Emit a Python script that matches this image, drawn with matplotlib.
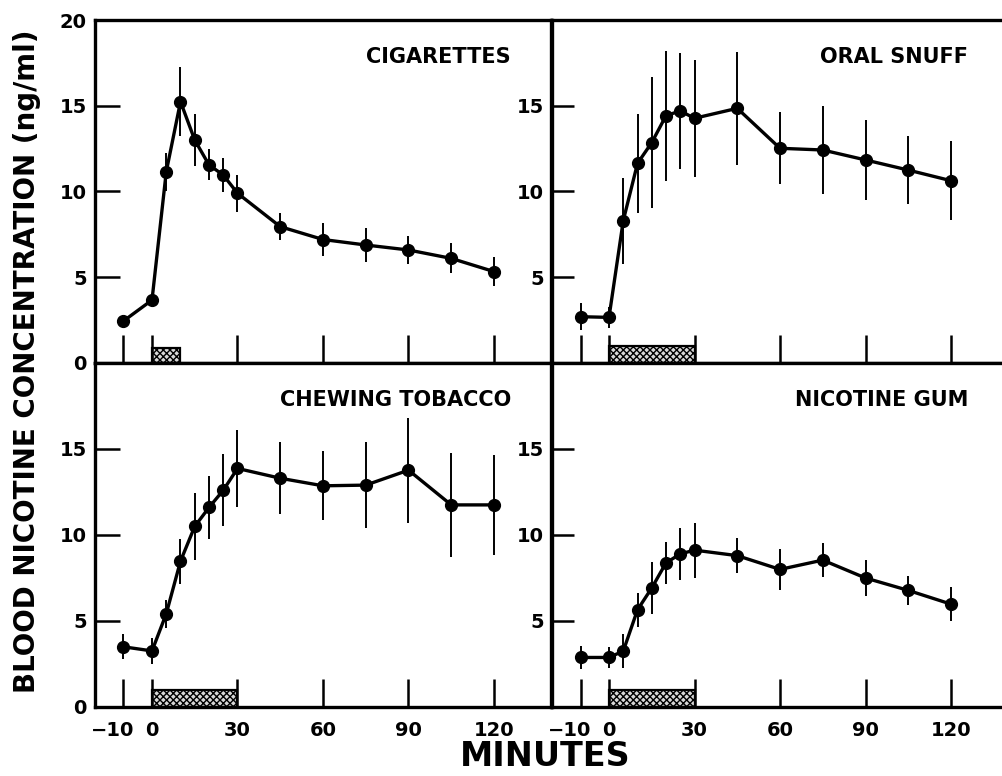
import numpy as np
import matplotlib
matplotlib.use("Agg")
import matplotlib.pyplot as plt
from matplotlib.transforms import ScaledTranslation

plt.rcParams['font.family'] = ['DejaVu Sans']
plt.rcParams['font.weight'] = 'bold'
plt.rcParams['hatch.linewidth'] = 1.0

# sampling times (minutes), same for all four panels
minutes = [-10, 0, 5, 10, 15, 20, 25, 30, 45, 60, 75, 90, 105, 120]

cig_mean = [2.45, 3.67, 11.15, 15.24, 13.0, 11.55, 10.96, 9.9, 7.95, 7.2, 6.88, 6.59, 6.1, 5.33]
cig_err = [0.3, 0.3, 1.1, 2.0, 1.5, 0.9, 1.0, 1.07, 0.8, 0.97, 0.97, 0.8, 0.87, 0.83]

snuff_mean = [2.7, 2.66, 8.3, 11.64, 12.85, 14.42, 14.7, 14.27, 14.85, 12.52, 12.42, 11.84, 11.25, 10.63]
snuff_err = [0.8, 0.6, 2.5, 2.9, 3.8, 3.8, 3.4, 3.4, 3.3, 2.1, 2.55, 2.35, 2.0, 2.3]

chew_mean = [3.5, 3.26, 5.42, 8.48, 10.5, 11.6, 12.6, 13.87, 13.3, 12.86, 12.9, 13.77, 11.75, 11.75]
chew_err = [0.73, 0.78, 0.83, 1.3, 1.95, 1.85, 2.1, 2.25, 2.1, 2.0, 2.5, 3.05, 3.0, 2.9]

gum_mean = [2.88, 2.88, 3.25, 5.65, 6.92, 8.38, 8.9, 9.12, 8.8, 8.0, 8.54, 7.5, 6.78, 5.98]
gum_err = [0.68, 0.6, 0.97, 1.0, 1.5, 1.2, 1.5, 1.6, 1.0, 1.17, 1.0, 1.07, 0.83, 0.97]

titles = ["CIGARETTES", "ORAL SNUFF", "CHEWING TOBACCO", "NICOTINE GUM"]
means = [cig_mean, snuff_mean, chew_mean, gum_mean]
errs = [cig_err, snuff_err, chew_err, gum_err]
# exposure period shown as stippled bar (start, end, height)
exposure = [(0, 10, 0.85), (0, 30, 1.0), (0, 30, 1.0), (0, 30, 1.0)]

xticks = [-10, 0, 30, 60, 90, 120]
xtick_labels = ["\u221210", "0", "30", "60", "90", "120"]

fig = plt.figure(figsize=(10.03, 7.76), dpi=100)
W = 456 / 1003
H_top = 343 / 776
H_bot = 344 / 776
positions = [
    (95 / 1003, 1 - 363 / 776, W, H_top),
    (552 / 1003, 1 - 363 / 776, W, H_top),
    (95 / 1003, 1 - 707 / 776, W, H_bot),
    (552 / 1003, 1 - 707 / 776, W, H_bot),
]

for i, pos in enumerate(positions):
    ax = fig.add_axes(pos)
    left = i % 2 == 0
    bottom = i >= 2

    x0, x1, hgt = exposure[i]
    ax.bar(x0, hgt, width=x1 - x0, align='edge', facecolor='#d8d8d8',
           edgecolor='black', hatch='xxxxx', linewidth=1.6, zorder=1)

    ax.errorbar(minutes, means[i], yerr=errs[i], fmt='-o', color='black',
                ms=8.5, lw=2.4, elinewidth=1.4, capsize=0, zorder=3)

    ax.set_xlim(-20, 140)
    ax.set_ylim(0, 20)
    ax.set_xticks(xticks)
    ax.set_xticklabels(xtick_labels)
    if left:
        ax.set_yticks([0, 5, 10, 15, 20] if not bottom else [0, 5, 10, 15])
        ylen = 18
    else:
        ax.set_yticks([5, 10, 15])
        ylen = 16
    ax.tick_params(axis='x', direction='in', length=20, width=1.8,
                   labelsize=14, pad=10, labelbottom=bottom)
    ax.tick_params(axis='y', direction='in', length=ylen, width=1.8,
                   labelsize=14, pad=6)
    for sp in ax.spines.values():
        sp.set_linewidth(2.4)

    # the "-10" label sits a little left of its tick in the original
    lab = ax.xaxis.get_major_ticks()[0].label1
    lab.set_transform(lab.get_transform() + ScaledTranslation(-0.11, 0, fig.dpi_scale_trans))

    ax.text(126, 17.85, titles[i], ha='right', va='center',
            fontsize=15, fontweight='bold')

fig.text(0.027, 0.534, "BLOOD NICOTINE CONCENTRATION (ng/ml)", rotation=90,
         ha='center', va='center', fontsize=20, fontweight='bold')
fig.text(0.544, 0.0245, "MINUTES", ha='center', va='center',
         fontsize=24, fontweight='bold')

fig.savefig("out.png", dpi=100)
